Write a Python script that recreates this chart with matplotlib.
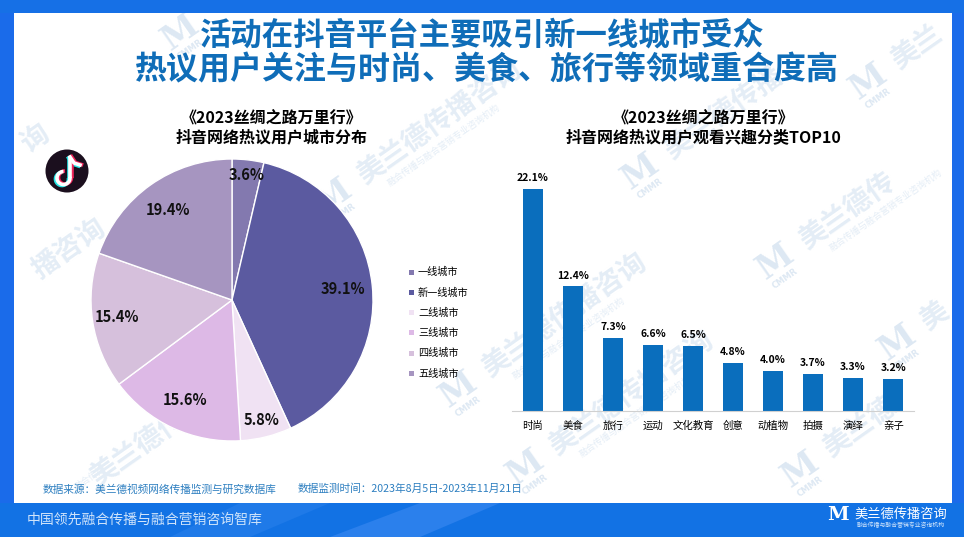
import numpy as np
import matplotlib.pyplot as plt
from matplotlib.patches import Rectangle, Polygon, Circle, Arc

plt.rcParams['font.family'] = ['Noto Sans CJK SC', 'DejaVu Sans']

W, H = 964, 537

# pie data
city_labels = ['一线城市', '新一线城市', '二线城市', '三线城市', '四线城市', '五线城市']
city_values = [3.6, 39.1, 5.8, 15.6, 15.4, 19.4]
city_colors = ['#8379AF', '#5B5AA0', '#F0E2F3', '#DDB9E6', '#D6C0DC', '#A695C0']

# bar data
interest_labels = ['时尚', '美食', '旅行', '运动', '文化教育', '创意', '动植物', '拍摄', '演绎', '亲子']
interest_values = [22.1, 12.4, 7.3, 6.6, 6.5, 4.8, 4.0, 3.7, 3.3, 3.2]

title_lines = ['活动在抖音平台主要吸引新一线城市受众', '热议用户关注与时尚、美食、旅行等领域重合度高']
source_text = '数据来源：美兰德视频网络传播监测与研究数据库'
period_text = '数据监测时间：2023年8月5日-2023年11月21日'
footer_text = '中国领先融合传播与融合营销咨询智库'
watermark_text = '美兰德传播咨询'
watermark_sub = '融合传播与融合营销专业咨询机构'

FRAME = '#1A6BEA'
FOOT = '#1272E4'
WM = '#E4EDF6'

fig = plt.figure(figsize=(W / 100, H / 100), dpi=100)

# background in pixel coordinates
bg = fig.add_axes([0, 0, 1, 1])
bg.set_xlim(0, W)
bg.set_ylim(H, 0)
bg.axis('off')
bg.add_patch(Rectangle((0, 0), W, H, color=FRAME, lw=0))
bg.add_patch(Rectangle((14, 13), 938, 490, color='white', lw=0))


def watermark(x, y, text=watermark_text, sub=True):
    # M block with the name running up to the right
    a = np.deg2rad(35)
    bg.text(x, y, 'M', fontsize=24, fontweight='bold', family='DejaVu Serif', color='#DDE8F3',
            rotation=35, ha='center', va='center')
    bg.text(x + 10, y + 17, 'CMMR', fontsize=6, fontweight='bold', family='DejaVu Sans', color='#DDE8F3',
            rotation=35, ha='center', va='center')
    if text:
        d = 32 + 14 * len(text)
        bg.text(x + d * np.cos(a), y - d * np.sin(a), text, fontsize=20, fontweight='bold', color=WM,
                rotation=35, ha='center', va='center', rotation_mode='anchor')
    if sub:
        d = 120
        bg.text(x + d * np.cos(a) + 12, y - d * np.sin(a) + 17, watermark_sub, fontsize=6.5, color=WM,
                rotation=35, ha='center', va='center', rotation_mode='anchor')


watermark(180, 33, '', False)
watermark(333, 197)
watermark(458, 390)
watermark(640, 172, '美兰德传播', False)
watermark(775, 262, '美兰德传')
watermark(897, 343, '美', False)
watermark(525, 468, '美兰德传播咨询')
watermark(800, 470, '美兰德', False)
watermark(868, 82, '美兰', False)
bg.text(70, 250, '播咨询', fontsize=20, fontweight='bold', color=WM, rotation=35, ha='center', va='center')
bg.text(36, 140, '询', fontsize=20, fontweight='bold', color=WM, rotation=35, ha='center', va='center')
bg.text(150, 440, '美兰德传播', fontsize=20, fontweight='bold', color=WM, rotation=35, ha='center', va='center')
bg.text(90, 478, '融合传播', fontsize=6.5, color=WM, rotation=35, ha='center', va='center')

# footer stripes
bg.add_patch(Rectangle((0, 503), W, 34, color=FOOT, lw=0, zorder=3))
bg.add_patch(Polygon([[330, 537], [420, 503], [500, 503], [420, 537]], color='#2B80EC', lw=0, zorder=3))
bg.add_patch(Polygon([[170, 537], [240, 503], [330, 503], [250, 537]], color='#1F7AE8', lw=0, zorder=3))
bg.add_patch(Rectangle((0, 0), W, 13, color='#1670E6', lw=0, zorder=3))

# titles
bg.text(482, 36, title_lines[0], fontsize=22.6, fontweight='black', color='#0F6DB8', ha='center', va='center', zorder=5)
bg.text(487, 70, title_lines[1], fontsize=23, fontweight='black', color='#0F6DB8', ha='center', va='center', zorder=5)
bg.text(272, 118, '《2023丝绸之路万里行》', fontsize=11.5, fontweight='bold', color='black', ha='center', va='center', zorder=5)
bg.text(272, 137, '抖音网络热议用户城市分布', fontsize=11.5, fontweight='bold', color='black', ha='center', va='center', zorder=5)
bg.text(704, 118, '《2023丝绸之路万里行》', fontsize=11.5, fontweight='bold', color='black', ha='center', va='center', zorder=5)
bg.text(704, 137, '抖音网络热议用户观看兴趣分类TOP10', fontsize=11.5, fontweight='bold', color='black', ha='center', va='center', zorder=5)

# logo
bg.add_patch(Circle((67, 171), 21.5, color='#1B0F1E', lw=0, zorder=5))
for dx, dy, col, z in [(-1.5, 1, '#25E6E6', 6), (1.5, -0.5, '#F0245A', 6), (0, 0, 'white', 7)]:
    bg.plot([70 + dx, 70 + dx], [157 + dy, 178 + dy], color=col, lw=2.6, zorder=z, solid_capstyle='butt')
    bg.plot([70 + dx, 74 + dx, 80 + dx], [157 + dy, 163 + dy, 165 + dy], color=col, lw=2.6, zorder=z)
    bg.add_patch(Arc((63.5 + dx, 178 + dy), 13, 13, theta1=-10, theta2=270, color=col, lw=2.6, zorder=z))

# source and footer
bg.text(43, 489, source_text, fontsize=7.7, color='#2D7FC0', ha='left', va='center', zorder=5)
bg.text(298, 489, period_text, fontsize=7.7, color='#2D7FC0', ha='left', va='center', zorder=5)
bg.text(27, 520, footer_text, fontsize=10, color='#CFE4FB', ha='left', va='center', zorder=5)
bg.text(838, 515, 'M', fontsize=14, fontweight='bold', family='DejaVu Serif', color='white', ha='center', va='center', zorder=5)
bg.text(901, 514, watermark_text, fontsize=9.5, color='white', ha='center', va='center', zorder=5)
bg.text(901, 525, watermark_sub, fontsize=4.2, color='#CFE4FB', ha='center', va='center', zorder=5)

# pie
pie_ax = fig.add_axes([(232 - 145) / W, 1 - (300 + 145) / H, 290 / W, 290 / H])
pie_ax.patch.set_alpha(0)
wedges, _ = pie_ax.pie(city_values, colors=city_colors, startangle=90, counterclock=False, radius=141 / 145,
                       wedgeprops={'edgecolor': 'white', 'linewidth': 1})
pie_ax.set_xlim(-1, 1)
pie_ax.set_ylim(-1, 1)

pie_label_r = [0.87, 0.77, 0.85, 0.76, 0.80, 0.76]
for wedge, value, r in zip(wedges, city_values, pie_label_r):
    ang = np.deg2rad((wedge.theta1 + wedge.theta2) / 2)
    pie_ax.text(r * np.cos(ang), r * np.sin(ang), f'{value}%', fontsize=10.5, fontweight='bold',
                color='#111111', ha='center', va='center')

# legend
for i, (lab, col) in enumerate(zip(city_labels, city_colors)):
    y = 272 + i * 20.3
    bg.add_patch(Rectangle((409, y - 2.5), 5, 5, color=col, lw=0, zorder=5))
    bg.text(418, y, lab, fontsize=7.3, fontweight='medium', color='black', ha='left', va='center', zorder=5)

# bars
bar_ax = fig.add_axes([512 / W, 1 - 411 / H, 402 / W, 240 / H])
bar_ax.patch.set_alpha(0)
x = np.arange(len(interest_labels))
bars = bar_ax.bar(x, interest_values, width=0.5, color='#0A6EBD')
bar_ax.set_xlim(-0.52, 9.52)
bar_ax.set_ylim(0, 240 / 10.05)
for rect, value in zip(bars, interest_values):
    bar_ax.text(rect.get_x() + rect.get_width() / 2, value + 0.55, f'{value}%', fontsize=7.5, fontweight='bold',
                color='black', ha='center', va='bottom')
bar_ax.set_xticks(x)
bar_ax.set_xticklabels(interest_labels, fontsize=7.5, fontweight='medium', color='black')
bar_ax.tick_params(axis='x', length=0, pad=7)
bar_ax.set_yticks([])
for side in ['top', 'left', 'right']:
    bar_ax.spines[side].set_visible(False)
bar_ax.spines['bottom'].set_color('#D0D0D0')

plt.savefig('out.png', dpi=100)
